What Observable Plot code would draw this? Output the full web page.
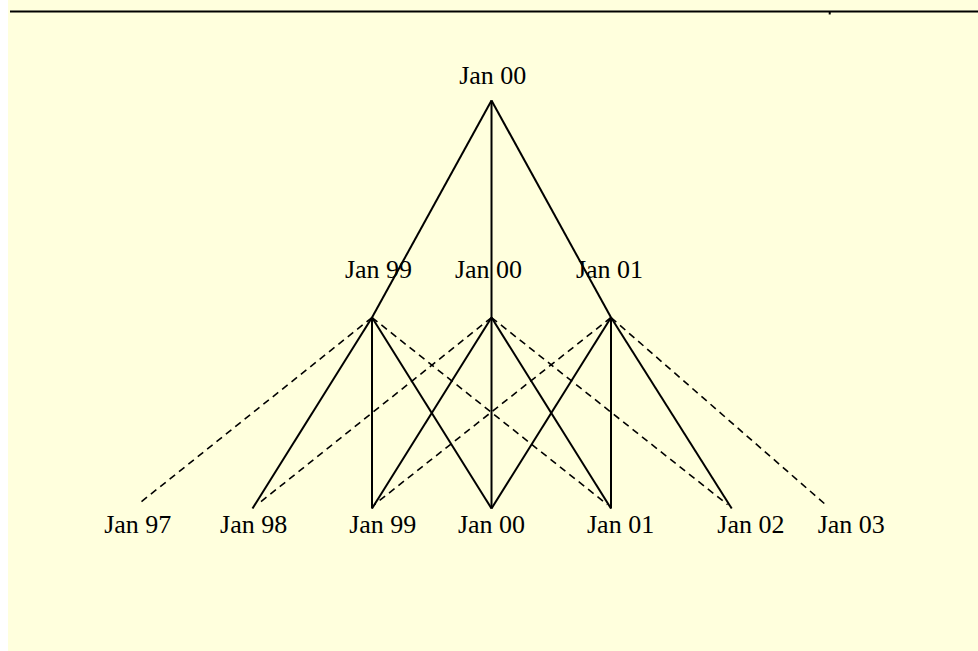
<!DOCTYPE html>
<html>
<head>
<meta charset="utf-8">
<script src="https://cdn.jsdelivr.net/npm/d3@7"></script>
<script src="https://cdn.jsdelivr.net/npm/@observablehq/plot@0.6"></script>
<style>
  html, body { margin: 0; padding: 0; background: #ffffff; }
  #wrap { padding-left: 8px; width: 970px; height: 651px; overflow: hidden; }
  #wrap svg text { font-family: "Liberation Serif", "Times New Roman", serif; }
</style>
</head>
<body>
<div id="wrap"></div>
<script>
// ---- data ----
// node depths: 0 = root, 1 = middle row, 2 = bottom row (solid ends), dashed ends slightly higher
const levelY = [0, 1, 1.88];
const dashedEndY = 1.862;

const topLabel = "Jan 00";
const topX = 0;
const topLabelX = 0.01;
const topLabelY = -0.074;

const midLabels = ["Jan 99", "Jan 00", "Jan 01"];
const midX = [-1, 0, 1];
const midLabelX = [-0.946, -0.025, 0.987];
const midLabelY = 0.816;

const bottomLabels = ["Jan 97", "Jan 98", "Jan 99", "Jan 00", "Jan 01", "Jan 02", "Jan 03"];
const bottomX = [-2.96, -2, -1, 0, 1, 2.01, 2.8];
const bottomLabelX = [-2.96, -1.99, -0.91, 0, 1.08, 2.17, 3.01];
const bottomLabelY = 1.995;

// solid edges: [middle node, bottom node]
const solidFrom = [0, 0, 0, 1, 1, 1, 2, 2, 2];
const solidTo   = [1, 2, 3, 2, 3, 4, 3, 4, 5];
// dashed edges: [middle node, bottom node] and their (slightly short) end x
const dashedFrom = [0, 0, 1, 1, 2, 2];
const dashedTo   = [0, 4, 1, 5, 2, 6];
const dashedEndX = [-2.96, 0.97, -1.96, 1.975, -0.98, 2.795];

// top ruler line and its small tick
const rulerTop = -0.41;
const rulerTickX = [2.83];
const rulerTickEnd = -0.394;

// ---- build tables ----
const topEdges = midX.map((x, i) => ({x1: topX, y1: levelY[0], x2: x, y2: levelY[1]}));
const solidEdges = solidFrom.map((f, i) => ({x1: midX[f], y1: levelY[1], x2: bottomX[solidTo[i]], y2: levelY[2]}));
const dashedEdges = dashedFrom.map((f, i) => ({x1: midX[f], y1: levelY[1], x2: dashedEndX[i], y2: dashedEndY}));
const labels = [
  {text: topLabel, x: topLabelX, y: topLabelY},
  ...midLabels.map((t, i) => ({text: t, x: midLabelX[i], y: midLabelY})),
  ...bottomLabels.map((t, i) => ({text: t, x: bottomLabelX[i], y: bottomLabelY}))
];

const chart = Plot.plot({
  width: 970,
  height: 651,
  marginTop: 11,
  marginBottom: 0,
  marginLeft: 2,
  marginRight: 0,
  style: {background: "#ffffdd", overflow: "visible"},
  x: {type: "linear", domain: [-4.025, 4.075], axis: null},
  y: {type: "linear", domain: [rulerTop, 2.539], reverse: true, axis: null},
  marks: [
    Plot.ruleY([rulerTop], {stroke: "#000", strokeWidth: 2}),
    Plot.ruleX(rulerTickX, {y1: rulerTop, y2: rulerTickEnd, stroke: "#000", strokeWidth: 2}),
    Plot.link(dashedEdges, {x1: "x1", y1: "y1", x2: "x2", y2: "y2", stroke: "#000", strokeWidth: 1.6, strokeDasharray: "7,5"}),
    Plot.link(topEdges, {x1: "x1", y1: "y1", x2: "x2", y2: "y2", stroke: "#000", strokeWidth: 2}),
    Plot.link(solidEdges, {x1: "x1", y1: "y1", x2: "x2", y2: "y2", stroke: "#000", strokeWidth: 2}),
    Plot.text(labels, {x: "x", y: "y", text: "text", fontSize: 26, fontFamily: "Liberation Serif, Times New Roman, serif", lineAnchor: "bottom", textAnchor: "middle", fill: "#000"})
  ]
});
document.getElementById("wrap").appendChild(chart);
</script>
</body>
</html>
